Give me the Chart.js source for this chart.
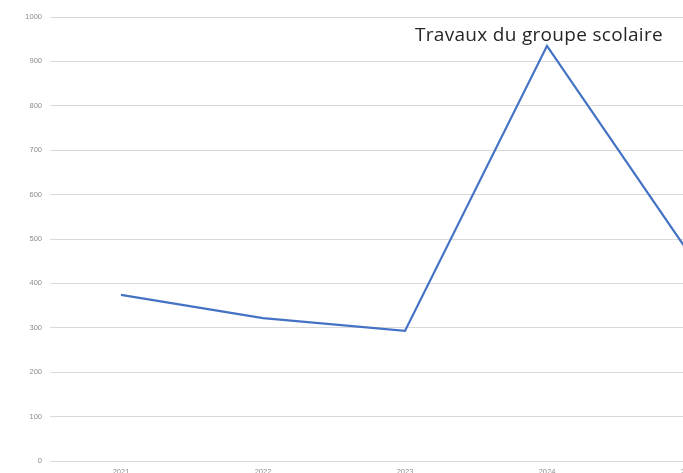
<!DOCTYPE html>
<html lang="fr">
<head>
    <meta charset="UTF-8"/>
    <title>Travaux du groupe scolaire</title>
    <script src="https://cdn.jsdelivr.net/npm/chart.js"></script>
    <style>
        html, body {
            margin: 0;
            padding: 0;
            background-color: #fff;
            width: 683px;
            height: 473px;
            overflow: hidden;
        }
        .canvas-wrapper {
            position: absolute;
            left: 0;
            top: 0;
            width: 760px;
            height: 482px;
        }
    </style>
</head>
<body>
<div class="canvas-wrapper">
    <canvas id="depensesChart"></canvas>
</div>

<script>
    // Years shown on the axis
    const years = ['2021', '2022', '2023', '2024', '2025'];

    // Values
    const depenses = [374, 322, 293, 935, 468];

    // Y axis ticks
    const yTicks = [0, 100, 200, 300, 400, 500, 600, 700, 800, 900, 1000];

    const noteText = 'Travaux du groupe scolaire';
    const noteIndex = 3;

    // draws the note above the 2024 peak
    const notePlugin = {
        id: 'note',
        afterDatasetsDraw(chart) {
            const ctx = chart.ctx;
            const x = chart.scales.x.getPixelForValue(noteIndex);
            const y = chart.scales.y.getPixelForValue(depenses[noteIndex]);
            ctx.save();
            ctx.font = '19px "Open Sans", sans-serif';
            ctx.letterSpacing = '0.3px';
            ctx.fillStyle = '#262626';
            ctx.textAlign = 'center';
            ctx.textBaseline = 'alphabetic';
            ctx.fillText(noteText, x - 8, y - 5);
            ctx.restore();
        }
    };

    const ctx = document.getElementById('depensesChart').getContext('2d');

    new Chart(ctx, {
        type: 'line',
        data: {
            labels: years,
            datasets: [{
                data: depenses,
                borderColor: '#4472C4',
                borderWidth: 2.25,
                pointRadius: 0,
                tension: 0,
                fill: false
            }]
        },
        options: {
            responsive: true,
            maintainAspectRatio: false,
            animation: false,
            layout: {
                padding: { top: 17, right: 0, left: 0, bottom: 0 }
            },
            scales: {
                x: {
                    offset: true,
                    grid: { display: false, offset: true, drawTicks: false },
                    border: { display: false },
                    ticks: {
                        color: '#8c8c8c',
                        font: { family: 'Liberation Sans', size: 7.5 },
                        maxRotation: 0,
                        autoSkip: false,
                        padding: 6
                    },
                    afterFit(scale) { scale.height = 21; }
                },
                y: {
                    min: 0,
                    max: 1000,
                    afterBuildTicks(scale) {
                        scale.ticks = yTicks.map(v => ({ value: v }));
                    },
                    grid: {
                        color: '#d9d9d9',
                        lineWidth: 1,
                        drawTicks: false
                    },
                    border: { display: false },
                    ticks: {
                        color: '#8c8c8c',
                        font: { family: 'Liberation Sans', size: 7.5 },
                        padding: 8,
                        callback: v => String(v)
                    },
                    afterFit(scale) { scale.width = 50; }
                }
            },
            plugins: {
                legend: { display: false },
                tooltip: { enabled: false }
            }
        },
        plugins: [notePlugin]
    });
</script>
</body>
</html>
